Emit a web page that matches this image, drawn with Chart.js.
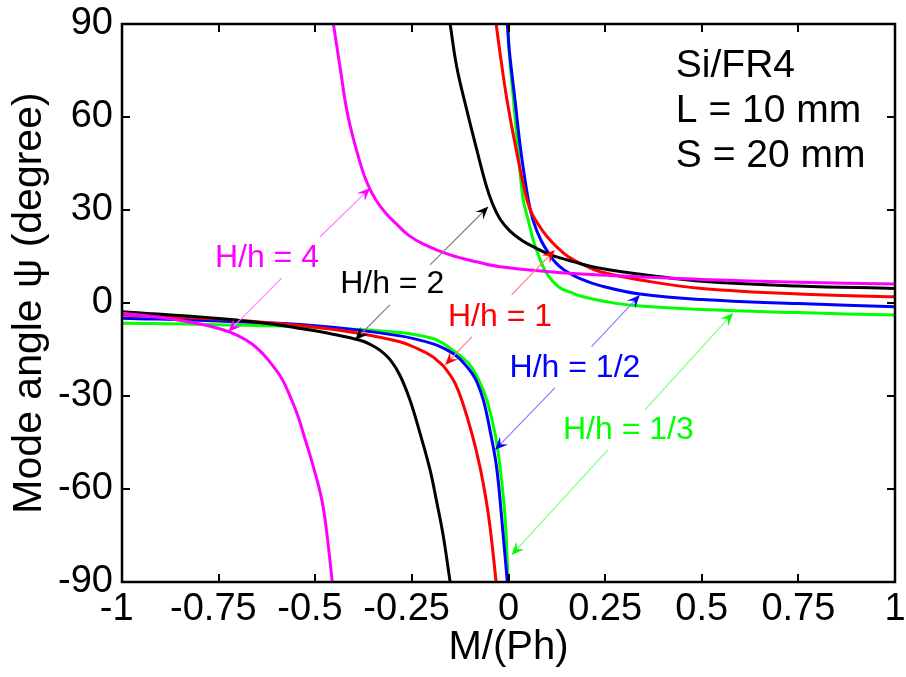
<!DOCTYPE html>
<html>
<head>
<meta charset="utf-8">
<title>Mode angle vs M/(Ph)</title>
<script src="https://cdn.jsdelivr.net/npm/chart.js@4.4.0/dist/chart.umd.min.js"></script>
<style>
    html, body { margin: 0; padding: 0; background: #fff; }
    #wrap { width: 906px; height: 677px; }
</style>
</head>
<body>
<div id="wrap"><canvas id="modeChart" width="906" height="677"></canvas></div>
<script>
"use strict";

// axis ticks
var xTickValues = [-1, -0.75, -0.5, -0.25, 0, 0.25, 0.5, 0.75, 1];
var xTickLabels = ['-1 ', '-0.75 ', '-0.5 ', '-0.25 ', '0', '0.25', '0.5', '0.75', '1'];
var yTickValues = [-90, -60, -30, 0, 30, 60, 90];
var yTickLabels = ['-90', '-60', '-30', '0', '30', '60', '90'];

// curves (null = break at the pole)
// H/h = 4
var hh4X = [-1, -0.884, -0.798, -0.741, -0.700, -0.6636, -0.6339, -0.608, -0.5847, -0.561, -0.5446, -0.531, -0.505, -0.483, -0.47, -0.456,
            -0.455,
            -0.453, -0.436, -0.415, -0.381, -0.3636, -0.343, -0.318, -0.29, -0.259, -0.22, -0.151, -0.08, -0.022, 0.107, 0.237, 0.366, 0.5, 0.75, 1];
var hh4Y = [-3.3, -4.9, -6.8, -8.55, -10.5, -13.2, -16.6, -20.5, -24.8, -31.3, -36.5, -42, -52.8, -63.5, -74.3, -90,
            null,
            90, 76.2, 60.1, 44, 38.1, 33.2, 29.0, 25.5, 21.9, 19, 15.5, 13.2, 11.7, 10.1, 9.0, 8.3, 7.6, 6.7, 6.1];

// H/h = 2
var hh2X = [-1, -0.75, -0.6, -0.539, -0.46, -0.384, -0.3557, -0.332, -0.305, -0.281, -0.255, -0.229, -0.203, -0.186, -0.169, -0.151,
            -0.1505,
            -0.151, -0.134, -0.108, -0.082, -0.0582, -0.0414, -0.022, 0.0039, 0.035, 0.0712, 0.1074, 0.172, 0.237, 0.366, 0.5, 0.75, 1];
var hh2Y = [-2.8, -5.0, -7.0, -8.2, -9.9, -12.0, -13.5, -15.3, -18.5, -23.3, -31.3, -42, -53.8, -64, -75, -90,
            null,
            90, 76.2, 62.3, 49.4, 38.1, 32.0, 27.1, 23.2, 20.2, 17.7, 15.6, 13.2, 11.2, 8.9, 7.0, 5.5, 4.7];

// H/h = 1
var hh1X = [-1, -0.75, -0.5, -0.4, -0.281, -0.2341, -0.2, -0.1811, -0.164, -0.14, -0.121, -0.095, -0.074, -0.058, -0.047, -0.032,
            -0.0318,
            -0.032, -0.0194, -0.0039, 0.02, 0.048, 0.062, 0.081, 0.0996, 0.124, 0.1539, 0.194, 0.237, 0.366, 0.5, 0.75, 1];
var hh1Y = [-3.9, -5.2, -7.8, -9.5, -12.5, -14.8, -17, -18.9, -21, -25.5, -31.3, -42, -52.8, -63.5, -73, -90,
            null,
            90, 78.4, 65.5, 49.4, 33.2, 28.5, 24.6, 21.45, 18.2, 15.0, 12.3, 10.1, 6.9, 4.7, 2.9, 2.0];

// H/h = 1/2
var hh12X = [-1, -0.75, -0.5, -0.281, -0.195, -0.151, -0.1281, -0.108, -0.0944, -0.082, -0.065, -0.048, -0.031, -0.018, -0.003,
             -0.0028,
             -0.003, 0.002, 0.0168, 0.0316, 0.0512, 0.064, 0.085, 0.116, 0.132, 0.151, 0.19, 0.237, 0.34, 0.5, 0.75, 1];
var hh12Y = [-4.9, -5.8, -7.3, -10.6, -13.2, -15.7, -17.8, -20.5, -22.7, -25.4, -31.3, -41, -52.8, -68.9, -90,
             null,
             90, 81.6, 65.5, 49.4, 33.2, 26.5, 20, 13.9, 11.8, 10.1, 7.6, 5.6, 2.9, 1.1, -0.2, -1.2];

// H/h = 1/3
var hh13X = [-1, -0.75, -0.5, -0.281, -0.2, -0.1734, -0.151, -0.1242, -0.101, -0.0841, -0.0699, -0.056, -0.035, -0.022, -0.009, -0.001,
             -0.0008,
             -0.001, 0.0013, 0.0129, 0.0246, 0.0383, 0.051, 0.064, 0.0802, 0.0957, 0.1138, 0.1345, 0.1617, 0.193, 0.2497, 0.323, 0.5, 0.75, 1];
var hh13Y = [-6.5, -7.0, -7.9, -9.5, -11.3, -12.7, -14.6, -17.1, -19.8, -23.05, -26.8, -31.3, -42, -52.8, -68.9, -90,
             null,
             90, 81.6, 65.5, 49.4, 33.2, 26.8, 20.3, 14.5, 10.2, 7.1, 4.8, 3.4, 2.0, 0.5, -0.8, -2.1, -3.1, -3.9];

var FONT = "'Liberation Sans', Arial, Helvetica, sans-serif";

// split one curve into its branches at the null gap
function branches(xs, ys) {
    var out = [], cur = [];
    xs.forEach(function (x, i) {
        if (ys[i] === null) {
            if (cur.length) out.push(cur);
            cur = [];
        } else {
            cur.push({x: x, y: ys[i]});
        }
    });
    if (cur.length) out.push(cur);
    return out;
}

function curveSets(label, xs, ys, color) {
    return branches(xs, ys).map(function (pts) {
        return {
            label: label,
            data: pts,
            borderColor: color,
            backgroundColor: color,
            borderWidth: 3,
            borderJoinStyle: 'round',
            pointRadius: 0,
            fill: false,
            tension: 0.4
        };
    });
}

// labels with their two arrows, in data units
var notes = [
    {text: 'H/h = 4', color: '#FF00FF', line: '#FF80FF', at: [-0.625, 14.5],
        arrows: [[-0.488, 21.3, -0.358, 37.1], [-0.587, 8.0, -0.725, -9.3]]},
    {text: 'H/h = 2', color: '#000000', line: '#808080', at: [-0.301, 6.1],
        arrows: [[-0.203, 12.3, -0.052, 31.1], [-0.307, -0.6, -0.397, -11.9]]},
    {text: 'H/h = 1', color: '#FF0000', line: '#FF8080', at: [-0.022, -4.5],
        arrows: [[0.008, 2.6, 0.12, 17.1], [-0.095, -10.9, -0.164, -20]]},
    {text: 'H/h = 1/2', color: '#0000FF', line: '#8080FF', at: [0.172, -21.1],
        arrows: [[0.215, -14.1, 0.34, 2.6], [0.12, -27.4, -0.035, -47.4]]},
    {text: 'H/h = 1/3', color: '#00FF00', line: '#80FF80', at: [0.31, -41],
        arrows: [[0.353, -34.5, 0.581, -3.2], [0.257, -47.4, 0.008, -81.3]]}
];

var infoLines = ['Si/FR4', 'L = 10 mm', 'S = 20 mm'];
var infoAt = [0.433, 73.0, 14.5]; // left x, first baseline y, step in degrees

function drawArrow(ctx, x1, y1, x2, y2, lineColor, headColor) {
    var ang = Math.atan2(y2 - y1, x2 - x1);
    var c = Math.cos(ang), s = Math.sin(ang);
    ctx.strokeStyle = lineColor;
    ctx.lineWidth = 1.2;
    ctx.beginPath();
    ctx.moveTo(x1, y1);
    ctx.lineTo(x2 - 8 * c, y2 - 8 * s);
    ctx.stroke();

    var L = 13, W = 5.5, N = 8;
    ctx.fillStyle = headColor;
    ctx.beginPath();
    ctx.moveTo(x2, y2);
    ctx.lineTo(x2 - L * c + W * s, y2 - L * s - W * c);
    ctx.lineTo(x2 - N * c, y2 - N * s);
    ctx.lineTo(x2 - L * c - W * s, y2 - L * s + W * c);
    ctx.closePath();
    ctx.fill();
}

var notesPlugin = {
    id: 'notes',
    afterDatasetsDraw: function (chart) {
        var ctx = chart.ctx;
        var xs = chart.scales.x, ys = chart.scales.y;
        ctx.save();
        notes.forEach(function (n) {
            n.arrows.forEach(function (a) {
                drawArrow(ctx,
                    xs.getPixelForValue(a[0]), ys.getPixelForValue(a[1]),
                    xs.getPixelForValue(a[2]), ys.getPixelForValue(a[3]),
                    n.line, n.color);
            });
            ctx.font = '32px ' + FONT;
            ctx.fillStyle = n.color;
            ctx.textAlign = 'center';
            ctx.textBaseline = 'middle';
            ctx.fillText(n.text, xs.getPixelForValue(n.at[0]), ys.getPixelForValue(n.at[1]));
        });

        ctx.font = '39px ' + FONT;
        ctx.fillStyle = '#000';
        ctx.textAlign = 'left';
        ctx.textBaseline = 'alphabetic';
        infoLines.forEach(function (t, i) {
            ctx.fillText(t, xs.getPixelForValue(infoAt[0]), ys.getPixelForValue(infoAt[1] - i * infoAt[2]));
        });
        ctx.restore();
    }
};

var framePlugin = {
    id: 'frame',
    afterDraw: function (chart) {
        var ctx = chart.ctx, a = chart.chartArea;
        var xs = chart.scales.x, ys = chart.scales.y;
        var t = 8;
        ctx.save();
        ctx.strokeStyle = '#000';
        ctx.lineWidth = 2;
        ctx.beginPath();
        xTickValues.forEach(function (v) {
            var p = Math.round(xs.getPixelForValue(v));
            ctx.moveTo(p, a.bottom); ctx.lineTo(p, a.bottom - t);
            ctx.moveTo(p, a.top); ctx.lineTo(p, a.top + t);
        });
        yTickValues.forEach(function (v) {
            var p = Math.round(ys.getPixelForValue(v));
            ctx.moveTo(a.left, p); ctx.lineTo(a.left + t, p);
            ctx.moveTo(a.right, p); ctx.lineTo(a.right - t, p);
        });
        ctx.stroke();
        ctx.lineWidth = 2.5;
        ctx.strokeRect(a.left, a.top, a.right - a.left, a.bottom - a.top);
        ctx.restore();
    }
};

var modeCtx = document.getElementById('modeChart');
var modeChart = new Chart(modeCtx, {
    type: 'line',
    data: {
        datasets: [].concat(
            curveSets('H/h = 4', hh4X, hh4Y, '#FF00FF'),
            curveSets('H/h = 2', hh2X, hh2Y, '#000000'),
            curveSets('H/h = 1', hh1X, hh1Y, '#FF0000'),
            curveSets('H/h = 1/2', hh12X, hh12Y, '#0000FF'),
            curveSets('H/h = 1/3', hh13X, hh13Y, '#00FF00')
        )
    },
    options: {
        responsive: false,
        animation: false,
        layout: {padding: {left: 0, right: 11, top: 24, bottom: 0}},
        plugins: {
            legend: {display: false},
            tooltip: {enabled: false}
        },
        scales: {
            x: {
                type: 'linear',
                min: -1,
                max: 1,
                grid: {display: false, drawTicks: false},
                border: {display: false},
                afterBuildTicks: function (scale) {
                    scale.ticks = xTickValues.map(function (v) { return {value: v}; });
                },
                afterFit: function (scale) {
                    scale.height = 95;
                    scale.paddingLeft = 0;
                    scale.paddingRight = 0;
                },
                ticks: {
                    color: '#000',
                    padding: 5,
                    maxRotation: 0,
                    autoSkip: false,
                    font: {family: FONT, size: 38},
                    callback: function (value, index) { return xTickLabels[index]; }
                },
                title: {
                    display: true,
                    text: 'M/(Ph)',
                    color: '#000',
                    font: {family: FONT, size: 40},
                    padding: {top: 0, bottom: 5}
                }
            },
            y: {
                type: 'linear',
                min: -90,
                max: 90,
                grid: {display: false, drawTicks: false},
                border: {display: false},
                afterBuildTicks: function (scale) {
                    scale.ticks = yTickValues.map(function (v) { return {value: v}; });
                },
                afterFit: function (scale) {
                    scale.width = 122;
                    scale.paddingTop = 0;
                    scale.paddingBottom = 0;
                },
                ticks: {
                    color: '#000',
                    padding: 9,
                    autoSkip: false,
                    font: {family: FONT, size: 38},
                    callback: function (value, index) { return yTickLabels[index]; }
                },
                title: {
                    display: true,
                    text: 'Mode angle \u03C8 (degree)',
                    color: '#000',
                    font: {family: FONT, size: 41},
                    padding: {top: 5, bottom: 0}
                }
            }
        }
    },
    plugins: [notesPlugin, framePlugin]
});
</script>
</body>
</html>
